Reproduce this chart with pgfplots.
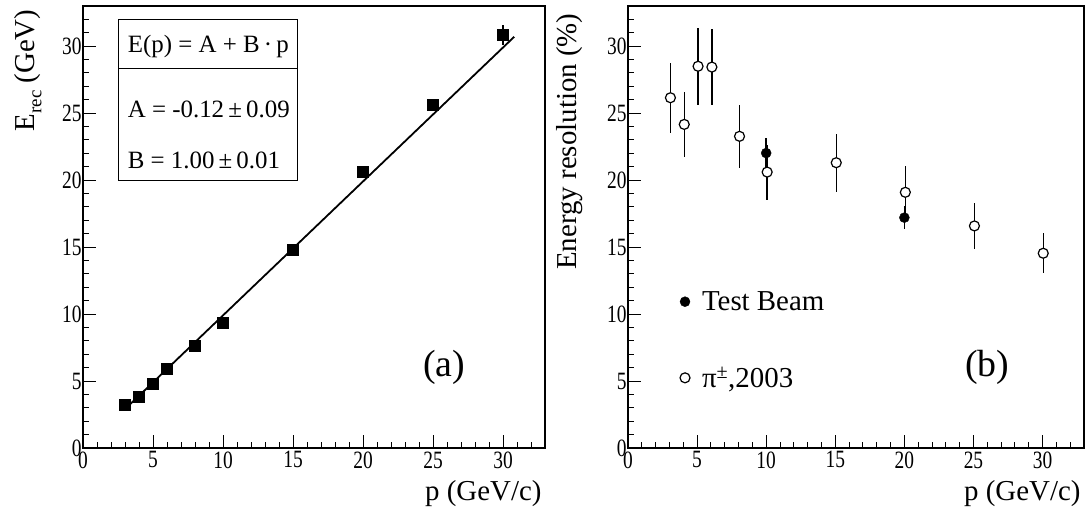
\documentclass[border=0pt]{standalone}
\usepackage{pgfplots}
\pgfplotsset{compat=1.18}
\usepackage{fontspec}
\setmainfont{Liberation Serif}
\newfontfamily\tickfont[FakeStretch=0.78]{Liberation Serif}

\pgfplotsset{rootstyle/.style={
  scale only axis, height=442bp,
  xmin=0,xmax=33,ymin=0,ymax=33,
  xtick={0,5,...,30}, ytick={0,5,...,30},
  minor xtick={0,...,33}, minor ytick={0,...,33},
  tick pos=left, tick align=inside,
  major tick length=12.7bp, minor tick length=6.3bp,
  axis line style={line width=1.2bp},
  every tick/.style={black, line width=1bp},
  tick label style={font=\tickfont\fontsize{25}{25}\selectfont},
  yticklabel style={xshift=2bp},
  /pgf/number format/assume math mode=true,
  label style={font=\fontsize{29}{29}\selectfont},
  xlabel style={at={(rel axis cs:1,-0.118)}, anchor=base east},
}}

\pgfplotstableread{
x y e
3 3.23 0.1
4 3.80 0.1
5 4.80 0.1
6 5.92 0.1
8 7.63 0.1
10 9.37 0.1
15 14.79 0.1
20 20.63 0.2
25 25.62 0.3
30 30.82 0.75
}\erec

\pgfplotstableread{
x y e
3.07 26.15 2.63
4.07 24.16 2.45
5.07 28.50 2.88
6.07 28.44 2.86
8.07 23.27 2.35
10.07 20.60 2.05
15.07 21.30 2.17
20.07 19.09 1.98
25.07 16.58 1.70
30.05 14.54 1.48
}\pion

\pgfplotstableread{
x y e
10 22.02 1.15
20 17.20 0.87
}\tbeam

\begin{document}
\begin{tikzpicture}
\begin{axis}[rootstyle, width=462bp, at={(83bp,68bp)}, anchor=south west,
  xlabel={p (GeV/c)},
  ylabel={E\raisebox{-0.22em}{\fontsize{19}{19}\selectfont rec} (GeV)},
  ylabel style={at={(rel axis cs:-0.104,1)}, anchor=base east},
]
\addplot[black, only marks, mark=square*, mark size=5.5bp,
  error bars/.cd, y dir=both, y explicit, error mark=none,
  error bar style={line width=1.4bp}]
  table[x=x, y=y, y error=e] {\erec};
\addplot[black, line width=1.8bp] coordinates {(3,2.9) (30.8,30.7)};
\draw[line width=1bp] (axis cs:2.5,20.0) rectangle (axis cs:15.3,32.0);
\draw[line width=1bp] (axis cs:2.5,28.3) -- (axis cs:15.3,28.3);
\node[anchor=west, font=\fontsize{25}{25}\selectfont] at (axis cs:2.95,29.95) {E(p) = A + B\,·\,p};
\node[anchor=west, font=\fontsize{25}{25}\selectfont] at (axis cs:2.95,25.3) {A = -0.12\,±\,0.09};
\node[anchor=west, font=\fontsize{25}{25}\selectfont] at (axis cs:2.95,21.5) {B = 1.00\,±\,0.01};
\node[font=\fontsize{38}{38}\selectfont] at (axis cs:25.8,6.0) {(a)};
\end{axis}

\begin{axis}[rootstyle, width=456bp, at={(628bp,68bp)}, anchor=south west,
  xlabel={p (GeV/c)},
  ylabel={Energy resolution (\%)},
  ylabel style={at={(rel axis cs:-0.112,0.991)}, anchor=base east},
  legend style={at={(axis cs:3.75,11.85)}, anchor=north west, draw=none, fill=none,
    font=\fontsize{29}{29}\selectfont, row sep=51bp, inner sep=0pt,
    /tikz/every odd column/.append style={column sep=10bp}},
  legend cell align=left,
]
\addplot[black, only marks, mark=*, mark size=5bp,
  error bars/.cd, y dir=both, y explicit, error mark=none,
  error bar style={line width=1.4bp, black}]
  table[x=x, y=y, y error=e] {\tbeam};
\addlegendentry{Test Beam}
\addplot[black, only marks, mark=*, mark size=5bp, mark options={fill=white, line width=1.2bp},
  error bars/.cd, y dir=both, y explicit, error mark=none,
  error bar style={line width=1.4bp, black}]
  table[x=x, y=y, y error=e] {\pion};
\addlegendentry{π\textsuperscript{±},2003}
\node[font=\fontsize{38}{38}\selectfont] at (axis cs:26.0,6.0) {(b)};
\end{axis}
\pgfresetboundingbox
\useasboundingbox (0,0) rectangle (1091bp,516bp);
\end{tikzpicture}
\end{document}
